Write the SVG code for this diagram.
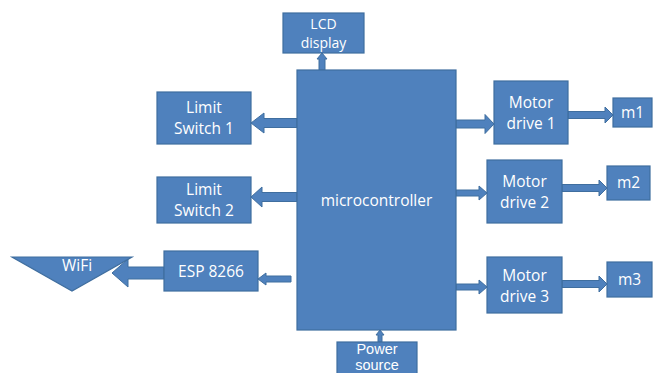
<svg xmlns="http://www.w3.org/2000/svg" width="654" height="373" viewBox="0 0 654 373">
<style>
.b{fill:#4F81BD;stroke:#3F6E9F;stroke-width:1.2}
.a{fill:#4F81BD;stroke:#3F6E9F;stroke-width:1}
text{font-family:"Open Sans","Liberation Sans",sans-serif;font-size:15.5px;fill:#ffffff;text-anchor:middle}
.s{font-size:14px}
.p{font-family:"Liberation Sans",sans-serif;font-size:14.5px}
</style>
<rect width="654" height="373" fill="#ffffff"/>
<g id="connectors">
<polygon class="a" points="319,70 319,59 317,59 322,53 327,59 325,59 325,70"/>
<polygon class="a" points="297,118.5 264,118.5 264,113 251,123 264,133 264,127.5 297,127.5"/>
<polygon class="a" points="297,192.5 262,192.5 262,187 251,197 262,207 262,201.5 297,201.5"/>
<polygon class="a" points="291,276 266,276 266,273 258,279 266,285 266,282 291,282"/>
<polygon class="a" points="164,267 128,267 128,259 112,273 128,287 128,279 164,279"/>
<polygon class="a" points="456,120 485,120 485,114.5 494,124 485,133.5 485,128 456,128"/>
<polygon class="a" points="568,111.5 605,111.5 605,107 613,115 605,123 605,118.5 568,118.5"/>
<polygon class="a" points="456,190 479,190 479,186 487,193 479,200 479,196 456,196"/>
<polygon class="a" points="562,184.5 599,184.5 599,180 607,188 599,196 599,191.5 562,191.5"/>
<polygon class="a" points="456,284 479,284 479,280 487,287 479,294 479,290 456,290"/>
<polygon class="a" points="562,280.5 599,280.5 599,276 607,284 599,292 599,287.5 562,287.5"/>
<polygon class="a" points="378,342 378,335 376,335 380,330 384,335 382,335 382,342"/>
</g>
<g id="microcontroller"><rect class="b" x="297" y="70" width="159" height="260"/><text x="376.5" y="206">microcontroller</text></g>
<g id="lcd"><rect class="b" x="283" y="13" width="81" height="40"/><text class="s" x="323.5" y="29">LCD</text><text class="s" x="323.5" y="48">display</text></g>
<g id="limit1"><rect class="b" x="157" y="92" width="94" height="52"/><text x="204" y="113">Limit</text><text x="204" y="134">Switch 1</text></g>
<g id="limit2"><rect class="b" x="157" y="177" width="94" height="46"/><text x="204" y="195">Limit</text><text x="204" y="216">Switch 2</text></g>
<g id="esp"><rect class="b" x="164" y="251" width="94" height="40"/><text x="211" y="277">ESP 8266</text></g>
<g id="wifi"><polygon class="b" points="12,257 132,257 72,291"/><text x="77" y="271">WiFi</text></g>
<g id="md1"><rect class="b" x="494" y="81" width="74" height="63"/><text x="531" y="108">Motor</text><text x="531" y="129">drive 1</text></g>
<g id="md2"><rect class="b" x="487" y="160" width="75" height="63"/><text x="524.5" y="187">Motor</text><text x="524.5" y="208">drive 2</text></g>
<g id="md3"><rect class="b" x="487" y="257" width="75" height="56"/><text x="524.5" y="281">Motor</text><text x="524.5" y="302">drive 3</text></g>
<g id="m1"><rect class="b" x="613" y="98" width="39" height="29"/><text x="632.5" y="118">m1</text></g>
<g id="m2"><rect class="b" x="607" y="166" width="43" height="34"/><text x="628.5" y="188">m2</text></g>
<g id="m3"><rect class="b" x="607" y="262" width="45" height="35"/><text x="629.5" y="285">m3</text></g>
<g id="power"><rect class="b" x="337" y="342" width="80" height="40"/><text class="p" x="377" y="354">Power</text><text class="p" x="377" y="370">source</text></g>
</svg>
